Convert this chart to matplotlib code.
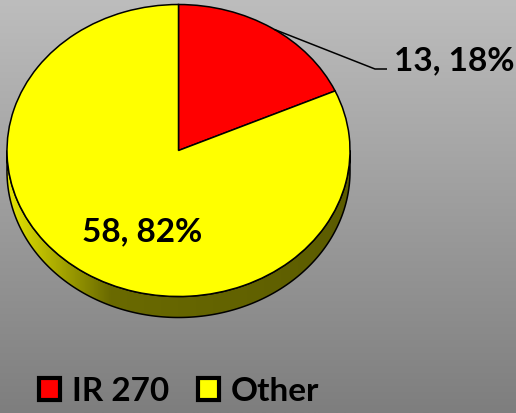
import numpy as np
import matplotlib
matplotlib.use("Agg")
import matplotlib.pyplot as plt
from matplotlib.patches import Polygon, Patch
from matplotlib.colors import LinearSegmentedColormap

# ---- data ----
categories = ["IR 270", "Other"]
values = [13, 58]
colors = ["#ff0000", "#ffff00"]
labels = ["13, 18%", "58, 82%"]

W, H = 516, 414
fig = plt.figure(figsize=(W / 100, H / 100), dpi=100)

# background gradient
bg = fig.add_axes([0, 0, 1, 1])
grad = np.linspace(0, 1, 256).reshape(-1, 1)
bg_cmap = LinearSegmentedColormap.from_list("bg", ["#bdbdbd", "#7e7e7e"])
bg.imshow(grad, aspect="auto", cmap=bg_cmap, extent=[0, 1, 0, 1], origin="upper")
bg.set_axis_off()

# pie geometry (pixel space of the figure)
cx, cy, rx, ry, depth = 178.5, 151.5, 171.5, 146.0, 21.0

ax = fig.add_axes([0, 0, 1, 1])
ax.patch.set_alpha(0)


def px(x, y):
    return (x - cx) / rx, (cy - y) / ry


d = depth / ry

# side (extrusion) of the pie
t = np.linspace(np.pi, 2 * np.pi, 300)
top_arc = np.column_stack([np.cos(t), np.sin(t)])
bot_arc = np.column_stack([np.cos(t[::-1]), np.sin(t[::-1]) - d])
side = Polygon(np.vstack([top_arc, bot_arc]), closed=True, facecolor="none",
               edgecolor="black", lw=1.1, zorder=2)
ax.add_patch(side)
side_cmap = LinearSegmentedColormap.from_list(
    "side", [(0, "#e6e600"), (0.3, "#6a6a00"), (1, "#5c5c00")])
xg = np.linspace(0, 1, 512).reshape(1, -1)
im = ax.imshow(xg, cmap=side_cmap, aspect="auto",
               extent=[-1, 1, -1 - d, 0], zorder=1)
im.set_clip_path(side)

# top face
wedges, _ = ax.pie(values, colors=colors, startangle=90, counterclock=False,
                   radius=1, center=(0, 0),
                   wedgeprops=dict(edgecolor="black", linewidth=1.1),
                   frame=True)
for w in wedges:
    w.set_zorder(3)

ax.set_xlim(*sorted([px(0, 0)[0], px(W, 0)[0]]))
ax.set_ylim(px(0, H)[1], px(0, 0)[1])
ax.set_aspect("auto")
ax.set_axis_off()

font = "Lato"

# leader line for the small slice
a0 = np.deg2rad(56)
p0 = (np.cos(a0), np.sin(a0))
p1 = px(375, 70)
p2 = px(387, 70)
ax.plot([p0[0], p1[0], p2[0]], [p0[1], p1[1], p2[1]], color="black", lw=1.1,
        zorder=4, solid_capstyle="butt")

lx, ly = px(394, 70)
ax.text(lx, ly, labels[0], fontsize=24, fontweight="bold", family=font,
        ha="left", va="baseline", zorder=5)
lx, ly = px(82, 241)
ax.text(lx, ly, labels[1], fontsize=24, fontweight="bold", family=font,
        ha="left", va="baseline", zorder=5)

handles = [Patch(facecolor=c, edgecolor="black", linewidth=3.0) for c in colors]
fig.legend(handles, categories, loc="center", ncol=2, frameon=False,
           bbox_to_anchor=(179 / W, 1 - 392 / H),
           prop=dict(family=font, weight="bold", size=24),
           handlelength=0.65, handleheight=0.65, handletextpad=0.35,
           columnspacing=0.85)

fig.savefig("out.png", dpi=100)
